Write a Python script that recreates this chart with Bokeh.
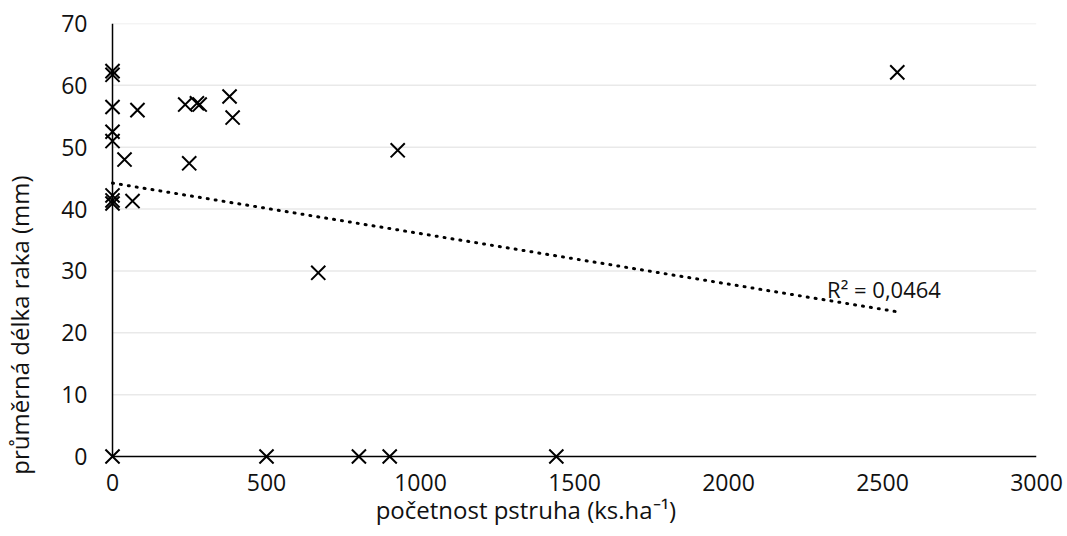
from bokeh.plotting import figure
from bokeh.models import ColumnDataSource, Label, FixedTicker
from bokeh.embed import file_html
from bokeh.resources import INLINE

# ---- data ----
x_vals = [0, 0, 0, 0, 0, 0, 0, 0, 0,
          81, 39, 65, 236, 249, 274, 283, 380, 390,
          668, 926, 2548, 500, 800, 900, 1441]
y_vals = [62.3, 61.7, 56.5, 52.5, 51.0, 42.2, 41.4, 40.9, 0,
          56.0, 48.0, 41.3, 56.9, 47.4, 57.1, 56.9, 58.2, 54.8,
          29.7, 49.5, 62.1, 0, 0, 0, 0]
trend_x = [0, 2548]
trend_y = [44.2, 23.4]
x_ticks = [0, 500, 1000, 1500, 2000, 2500, 3000]
y_ticks = [0, 10, 20, 30, 40, 50, 60, 70]
r2_text = "R² = 0,0464"
x_title = "početnost pstruha (ks.ha⁻¹)"
y_title = "průměrná délka raka (mm)"

FONT = "Open Sans"
TXT = "#111111"
NB = "\u00a0"

p = figure(width=1067, height=536,
           x_range=(-32.5, x_ticks[-1]), y_range=(-1.293, y_ticks[-1]),
           min_border_left=102, min_border_right=31,
           min_border_top=23, min_border_bottom=72,
           output_backend="svg", toolbar_location=None)
p.outline_line_color = None
p.xgrid.visible = False
p.ygrid.visible = False
p.background_fill_color = "white"
p.border_fill_color = "white"

for ax in (p.xaxis[0], p.yaxis[0]):
    ax.axis_line_color = None
    ax.major_tick_line_color = None
    ax.minor_tick_line_color = None
    ax.major_tick_out = 0
    ax.major_tick_in = 0
    ax.minor_tick_out = 0
    ax.minor_tick_in = 0
    ax.major_label_text_font = FONT
    ax.major_label_text_font_size = "23px"
    ax.major_label_text_color = TXT
    ax.axis_label_text_font = FONT
    ax.axis_label_text_font_size = "24px"
    ax.axis_label_text_font_style = "normal"
    ax.axis_label_text_color = TXT

p.xaxis[0].ticker = FixedTicker(ticks=x_ticks)
p.yaxis[0].ticker = FixedTicker(ticks=y_ticks)
p.xaxis[0].major_label_standoff = 9
p.yaxis[0].major_label_standoff = 15
# titles: padded with no-break spaces to shift them off-centre as in the reference
p.xaxis[0].axis_label = x_title + NB * 14
p.xaxis[0].axis_label_standoff = -1
p.yaxis[0].axis_label = y_title + NB * 26
p.yaxis[0].axis_label_standoff = 22

# horizontal gridlines (from tick arrays)
grid_src = ColumnDataSource(dict(
    x0=[x_ticks[0]] * (len(y_ticks) - 1), x1=[x_ticks[-1]] * (len(y_ticks) - 1),
    y=y_ticks[1:]))
p.segment(x0="x0", y0="y", x1="x1", y1="y", source=grid_src,
          line_color="#e9e9e9", line_width=1.5)

# axis lines
p.segment(x0=[x_ticks[0], x_ticks[0]], y0=[y_ticks[0], y_ticks[0]],
          x1=[x_ticks[0], x_ticks[-1]], y1=[y_ticks[-1], y_ticks[0]],
          line_color="black", line_width=1.5)

# trend line
p.line(trend_x, trend_y, line_color="black", line_width=3,
       line_dash="1 7", line_cap="round")

# points
src = ColumnDataSource(dict(x=x_vals, y=y_vals))
p.scatter("x", "y", source=src, marker="x", size=20,
          line_color="black", line_width=2)

# R^2 label
p.add_layout(Label(x=2320, y=27.1, text=r2_text, text_font=FONT,
                   text_font_size="22px", text_color=TXT,
                   text_align="left", text_baseline="alphabetic"))

open("out.html", "w").write(file_html(p, INLINE))
